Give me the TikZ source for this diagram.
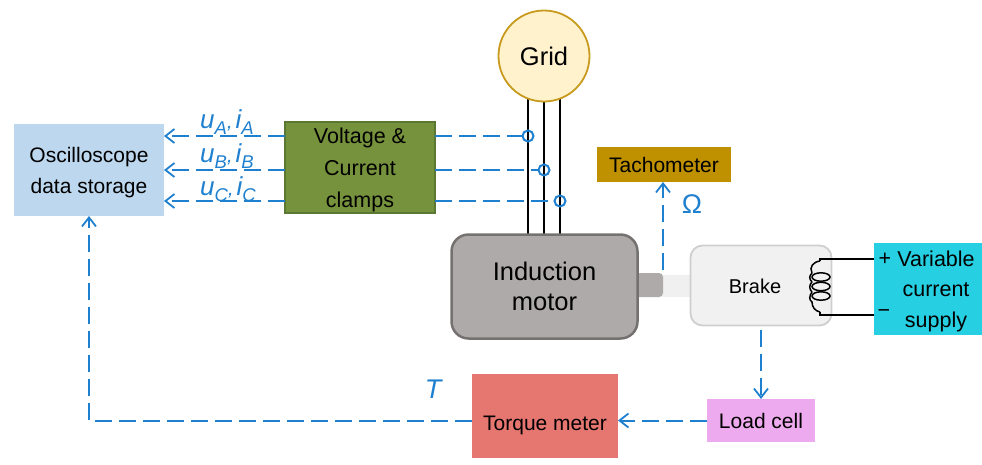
\documentclass[tikz,border=0pt]{standalone}
\usepackage{fontspec}
\setmainfont{Liberation Sans}
\usetikzlibrary{arrows.meta,calc}
\definecolor{sig}{HTML}{1F80D0}
\tikzset{
  boxn/.style={draw=none,align=center,inner sep=0pt,outer sep=0pt,text=black,font=\fontsize{21}{31}\selectfont,line width=1pt},
  sigline/.style={draw=sig,line width=2pt,dash pattern=on 17pt off 7pt},
  sigarrow/.style={sigline,-{Straight Barb[length=9pt,width=14pt,line width=1.8pt]}},
  wire/.style={draw=black,line width=2.6pt},
  tap/.style={circle,draw=sig,line width=2pt,minimum size=11pt,inner sep=0pt},
  siglabel/.style={text=sig,inner sep=0pt,font=\itshape\fontsize{27}{27}\selectfont},
  gridnode/.style={circle,draw={rgb,255:red,200;green,155;blue,30},line width=1.8pt,fill={rgb,255:red,255;green,242;blue,204},minimum size=91pt,inner sep=0pt,font=\fontsize{25.5}{28}\selectfont},
  supplytext/.style={inner sep=0pt,font=\fontsize{21.5}{21.5}\selectfont}
}
\newcommand{\bx}[7]{\node[boxn,#2,minimum width=#5pt-#3pt,minimum height=#6pt-#4pt,anchor=north west] (#1) at (#3pt,-#4pt) {#7};}
\newcommand{\siglab}[2]{{\fontsize{26}{26}\selectfont #1\fontsize{18.5}{18.5}\selectfont\raisebox{-6pt}{#2}\fontsize{20}{20}\selectfont,\hspace{3pt}\fontsize{26}{26}\selectfont i\fontsize{18.5}{18.5}\selectfont\raisebox{-6pt}{#2}}}
\begin{document}
\begin{tikzpicture}[x=1pt,y=-1pt]
\useasboundingbox (0,0) rectangle (982,464);
\bx{osc}{fill={rgb,255:red,189;green,215;blue,238}}{14}{124}{164}{216}{\rule{0pt}{20pt}Oscilloscope\\data storage}
\bx{clamps}{draw={rgb,255:red,90;green,120;blue,50},fill={rgb,255:red,118;green,146;blue,60},line width=1.5pt,font=\fontsize{21.5}{32}\selectfont}{285}{122}{435}{213}{\rule{0pt}{21pt}Voltage \&\\Current\\clamps}
\bx{tach}{fill={rgb,255:red,191;green,144;blue,0}}{597}{147}{731}{182}{Tachometer}
% shaft under motor and brake
\fill[fill={rgb,255:red,240;green,240;blue,240}] (660,275) rectangle (692,297);
\node[draw=none,fill={rgb,255:red,174;green,170;blue,170},rounded corners=4pt,minimum width=40pt,minimum height=24pt,inner sep=0pt] (shaft) at (643,285) {};
\coordinate (w1a) at (528,92); \coordinate (w1b) at (528,234);
\coordinate (w2a) at (544,101); \coordinate (w2b) at (544,234);
\coordinate (w3a) at (560,92); \coordinate (w3b) at (560,234);
\draw[wire] (w1a) -- (w1b);
\draw[wire] (w2a) -- (w2b);
\draw[wire] (w3a) -- (w3b);
\node[boxn,draw={rgb,255:red,118;green,113;blue,113},line width=2.5pt,fill={rgb,255:red,174;green,170;blue,170},rounded corners=17pt,minimum width=186pt,minimum height=104pt,font=\fontsize{25.5}{30}\selectfont] (motor) at (544.5,286.5) {Induction\\motor};
\node[boxn,draw={rgb,255:red,208;green,206;blue,206},line width=1.8pt,fill={rgb,255:red,241;green,241;blue,241},rounded corners=12pt,minimum width=141pt,minimum height=80pt,font=\fontsize{20}{24}\selectfont] (brakebody) at (761,285.5) {};
\node[font=\fontsize{20}{24}\selectfont,inner sep=0pt] (braketext) at (755,286) {Brake};
\bx{supply}{fill={rgb,255:red,38;green,208;blue,226}}{874}{243}{982}{335}{}
\node[supplytext] (plus) at (885,259) {+};
\node[supplytext] (minus) at (884,314) {\textminus};
\node[supplytext] (var) at (936,259) {Variable};
\node[supplytext] (cur) at (936,290) {current};
\node[supplytext] (sup) at (936,322) {supply};
\bx{torque}{fill={rgb,255:red,230;green,118;blue,112}}{472}{374}{618}{458}{\smash{\raisebox{-14pt}{Torque meter}}}
\bx{load}{fill={rgb,255:red,238;green,170;blue,238}}{707}{399}{815}{442}{Load cell}
\node[gridnode] (grid) at (544,56) {Grid};
\node[tap] (t1) at (528,136) {};
\node[tap] (t2) at (544,170) {};
\node[tap] (t3) at (560,201) {};
% clamp to tap
\draw[sigline] (clamps.east |- t1) -- (t1);
\draw[sigline] (clamps.east |- t2) -- (t2);
\draw[sigline] (clamps.east |- t3) -- (t3);
% clamp to scope
\draw[sigarrow] (clamps.west |- t1) -- (osc.east |- t1);
\draw[sigarrow] (clamps.west |- t2) -- (osc.east |- t2);
\draw[sigarrow] (clamps.west |- t3) -- (osc.east |- t3);
% labels
\node[siglabel,anchor=base west] (ua) at (200,128) {\siglab{u}{A}};
\node[siglabel,anchor=base west] (ub) at (200,162) {\siglab{u}{B}};
\node[siglabel,anchor=base west] (uc) at (200,195) {\siglab{u}{C}};
\node[text=sig,inner sep=0pt,font=\fontsize{27}{27}\selectfont] (om) at (692,204) {Ω};
\node[siglabel] (tt) at (433,389) {T};
% sensor arrows
\coordinate (tachfoot) at (663,270);
\draw[sigarrow] (tachfoot) -- (tachfoot |- tach.south);
\coordinate (brakefoot) at (761,330);
\draw[sigarrow] (brakefoot) -- (brakefoot |- load.north);
\draw[sigarrow] (load.west) -- (torque.east |- load.west);
\draw[sigarrow] (torque.west |- load.west) -- (89,420.5) -- (89,216);
% coil
\coordinate (coilT) at (820,259);
\coordinate (coilB) at (820,315);
\draw[wire,line width=1.8pt] (supply.west |- coilT) -- (coilT) -- (820,261);
\draw[wire,line width=1.8pt] (supply.west |- coilB) -- (coilB) -- (820,312);
\draw[black,line width=1.5pt] (820,261) .. controls (813,262) and (809,267) .. (812,273)
  (812,273) .. controls (809,276) and (809,279) .. (812,282)
  (812,282) .. controls (809,285) and (809,289) .. (812,292)
  (812,292) .. controls (809,296) and (809,300) .. (812,302)
  (812,302) .. controls (812,307) and (815,311) .. (820,312);
\draw[black,line width=1.5pt] (821,277) ellipse[x radius=9,y radius=4.2];
\draw[black,line width=1.5pt] (821,286.5) ellipse[x radius=9,y radius=4.2];
\draw[black,line width=1.5pt] (821,296) ellipse[x radius=9,y radius=4.2];
\end{tikzpicture}
\end{document}
